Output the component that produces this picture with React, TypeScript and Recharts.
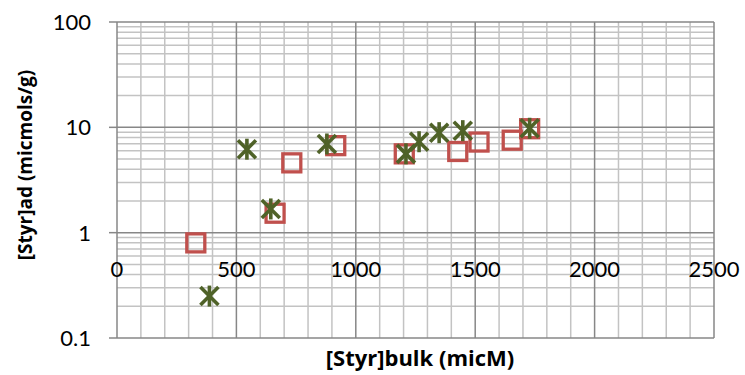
import React from 'react';
import { ScatterChart, Scatter, XAxis, YAxis, ReferenceLine } from 'recharts';

// Bulk concentration (micM) and adsorbed amount (micmols/g), two runs
const runA_bulk = [330, 662, 732, 916, 1203, 1427, 1516, 1655, 1728];
const runA_ads = [0.8, 1.53, 4.6, 6.7, 5.6, 5.9, 7.25, 7.55, 9.7];
const runB_bulk = [387, 544, 644, 879, 1210, 1265, 1349, 1448, 1728];
const runB_ads = [0.25, 6.2, 1.68, 6.95, 5.6, 7.3, 8.9, 9.3, 9.8];

const xTicks = [0, 500, 1000, 1500, 2000, 2500];
const yTicks = [0.1, 1, 10, 100];
const xMinor = [100, 200, 300, 400, 600, 700, 800, 900, 1100, 1200, 1300, 1400, 1600, 1700, 1800, 1900, 2100, 2200, 2300, 2400];
const yMinor = [0.2, 0.3, 0.4, 0.5, 0.6, 0.7, 0.8, 0.9, 2, 3, 4, 5, 6, 7, 8, 9, 20, 30, 40, 50, 60, 70, 80, 90];
const X_CROSS = 1; // horizontal axis crosses the log axis at this value

const runA = runA_bulk.map((x, i) => ({ x, y: runA_ads[i] }));
const runB = runB_bulk.map((x, i) => ({ x, y: runB_ads[i] }));

const W = 745;
const H = 375;
const M_TOP = 22;
const M_RIGHT = 31;
const Y_AXIS_W = 117;
const X_AXIS_H = 37;
const PLOT_H = H - M_TOP - X_AXIS_H;

const FONT = 'Lato, "Open Sans", sans-serif';
const TITLE_FONT = '"Open Sans", Lato, sans-serif';
const MAJOR = '#878787';
const MINOR = '#c3c3c3';
const RED = '#C0504D';
const GREEN = '#4F6228';

const decades = Math.log10(yTicks[yTicks.length - 1] / yTicks[0]);
const crossShift = (PLOT_H * Math.log10(X_CROSS / yTicks[0])) / decades;

const XTick = (props: any) => {
  const { x, y, payload } = props;
  return (
    <text x={x} y={y - crossShift + 44} textAnchor="middle" fontSize={22} fontFamily={FONT} fill="#000">
      {payload.value}
    </text>
  );
};

const YTick = (props: any) => {
  const { x, y, payload } = props;
  return (
    <text x={x} y={y + 8} textAnchor="end" fontSize={22} fontFamily={FONT} fill="#000">
      {payload.value}
    </text>
  );
};

const SquareMark = (props: any) => {
  const { cx, cy } = props;
  return <rect x={cx - 9} y={cy - 9} width={18} height={18} fill="none" stroke={RED} strokeWidth={3.3} />;
};

const StarMark = (props: any) => {
  const { cx, cy } = props;
  const r = 9;
  return (
    <g stroke={GREEN} strokeWidth={3.6} strokeLinecap="butt">
      <line x1={cx - r} y1={cy - r} x2={cx + r} y2={cy + r} />
      <line x1={cx - r} y1={cy + r} x2={cx + r} y2={cy - r} />
      <line x1={cx} y1={cy - r - 1.5} x2={cx} y2={cy + r + 1.5} />
    </g>
  );
};

export default function App() {
  return (
    <div style={{ position: 'absolute', left: 0, top: 0, width: W, height: H, background: '#fff' }}>
      <ScatterChart width={W} height={H} margin={{ top: M_TOP, right: M_RIGHT, bottom: 0, left: 0 }}>
        <XAxis
          type="number"
          dataKey="x"
          domain={[0, 2500]}
          ticks={xTicks}
          height={X_AXIS_H}
          axisLine={false}
          tickLine={false}
          tickSize={0}
          tickMargin={0}
          interval={0}
          tick={<XTick />}
          allowDataOverflow
        />
        <YAxis
          type="number"
          dataKey="y"
          scale="log"
          domain={[0.1, 100]}
          ticks={yTicks}
          width={Y_AXIS_W}
          interval={0}
          axisLine={{ stroke: MAJOR, strokeWidth: 1.5 }}
          tickLine={{ stroke: MAJOR, strokeWidth: 1.5 }}
          tickSize={8}
          tickMargin={18}
          tick={<YTick />}
          allowDataOverflow
        />
        {xMinor.map((v) => (
          <ReferenceLine key={'xm' + v} x={v} stroke={MINOR} strokeWidth={1.5} />
        ))}
        {yMinor.map((v) => (
          <ReferenceLine key={'ym' + v} y={v} stroke={MINOR} strokeWidth={1.5} />
        ))}
        {xTicks.slice(1).map((v) => (
          <ReferenceLine key={'xM' + v} x={v} stroke={MAJOR} strokeWidth={1.5} />
        ))}
        {yTicks.map((v) => (
          <ReferenceLine key={'yM' + v} y={v} stroke={MAJOR} strokeWidth={1.5} />
        ))}
        <Scatter data={runA} shape={<SquareMark />} isAnimationActive={false} />
        <Scatter data={runB} shape={<StarMark />} isAnimationActive={false} />
      </ScatterChart>
      <svg width={W} height={H} style={{ position: 'absolute', left: 0, top: 0, pointerEvents: 'none' }}>
        <text x={420} y={366} textAnchor="middle" fontSize={22} fontWeight="bold" fontFamily={TITLE_FONT} fill="#000">
          [Styr]bulk (micM)
        </text>
        <text
          transform="translate(32,165) rotate(-90)"
          textAnchor="middle"
          fontSize={19}
          fontWeight="bold"
          fontFamily={TITLE_FONT}
          fill="#000"
        >
          [Styr]ad (micmols/g)
        </text>
      </svg>
    </div>
  );
}
